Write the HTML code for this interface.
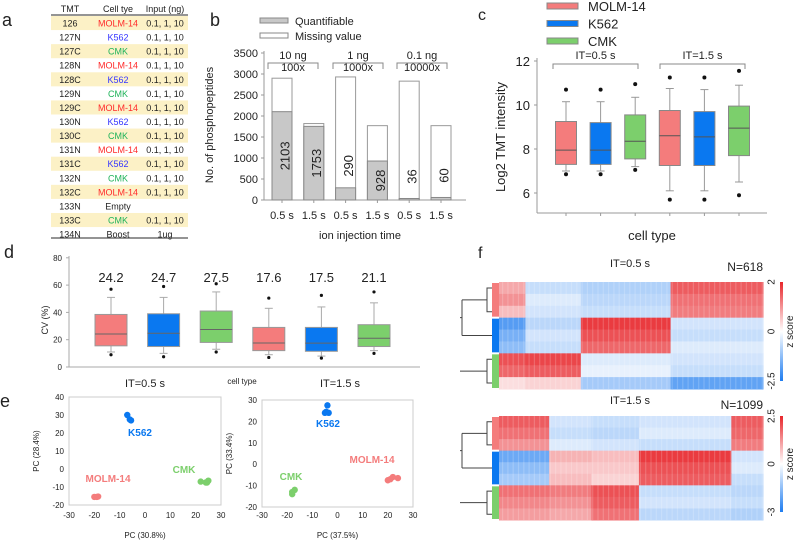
<!DOCTYPE html>
<html><head><meta charset="utf-8">
<style>
body{margin:0;background:#fff;}
svg{display:block;font-family:"Liberation Sans",sans-serif;}
</style></head>
<body>
<svg id="fig" width="798" height="543" viewBox="0 0 798 543" xmlns="http://www.w3.org/2000/svg"></svg>
<script>
// ---------- DATA ----------
const tmtLabels=["126","127N","127C","128N","128C","129N","129C","130N","130C","131N","131C","132N","132C","133N","133C","134N"];
const tmtCells=["MOLM-14","K562","CMK","MOLM-14","K562","CMK","MOLM-14","K562","CMK","MOLM-14","K562","CMK","MOLM-14","Empty","CMK","Boost"];
const tmtInputs=["0.1, 1, 10","0.1, 1, 10","0.1, 1, 10","0.1, 1, 10","0.1, 1, 10","0.1, 1, 10","0.1, 1, 10","0.1, 1, 10","0.1, 1, 10","0.1, 1, 10","0.1, 1, 10","0.1, 1, 10","0.1, 1, 10","","0.1, 1, 10","1ug"];

const bCategories=["0.5 s","1.5 s","0.5 s","1.5 s","0.5 s","1.5 s"];
const bTotal=[2900,1820,2930,1770,2830,1770];
const bQuant=[2103,1753,290,928,36,60];
const bTicks=[0,500,1000,1500,2000,2500,3000,3500];

const cGroups=["MOLM-14","K562","CMK","MOLM-14","K562","CMK"];
const cQ1=[7.3,7.3,7.55,7.25,7.25,7.7];
const cMed=[7.95,7.95,8.35,8.6,8.55,8.95];
const cQ3=[9.25,9.2,9.55,9.75,9.7,9.95];
const cWLo=[7.0,7.0,7.2,6.1,6.1,6.5];
const cWHi=[10.15,10.15,10.35,10.75,10.7,10.9];
const cOutLo=[6.85,6.85,7.05,5.7,5.7,5.9];
const cOutHi=[10.7,10.7,10.95,11.25,11.25,11.55];
const cTicks=[6,8,10,12];

const dMedLabels=["24.2","24.7","27.5","17.6","17.5","21.1"];
const dQ1=[15.5,15,18,12,11.5,15];
const dMed=[24.2,24.7,27.5,17.6,17.5,21.1];
const dQ3=[38.5,39,41,29,29,31];
const dWLo=[11,10,13,9,8,12];
const dWHi=[51,51,55,43,44,47];
const dOutLo=[9,7.5,11,7,6.5,10];
const dOutHi=[57,59,61,50.5,52.5,55];
const dTicks=[0,20,40,60,80];

const e1K562X=[-7,-6,-5.5], e1K562Y=[30,27.5,27];
const e1MolmX=[-20,-19,-18.5], e1MolmY=[-15.5,-15.5,-15.3];
const e1CmkX=[22,24,25,24.5], e1CmkY=[-7,-7.5,-6.5,-7.5];
const e2K562X=[-5,-4,-3.5,-4.5], e2K562Y=[24,27.5,24,24.5];
const e2CmkX=[-18,-17,-18], e2CmkY=[-14,-12,-13];
const e2MolmX=[20,22,24,21], e2MolmY=[-7.5,-6,-6.5,-7];

// heatmap block data: column-segment boundaries (fractions) and z per row
const h1Bounds=[0,0.1,0.31,0.65,1];
const h1Rows=[
 [0.8,-0.5,-0.7,1.5],[1.0,-0.3,-0.6,1.3],[0.6,-0.4,-0.5,1.2],
 [-1.5,-0.6,1.8,-0.4],[-1.2,-0.4,1.6,-0.5],[-1.0,-0.5,1.4,-0.3],
 [1.6,1.7,-0.3,-0.4],[1.4,1.5,-0.2,-0.5],[0.3,0.4,-0.8,-1.4]];
const h2Bounds=[0,0.19,0.35,0.53,0.88,1];
const h2Rows=[
 [1.5,-0.4,-0.5,-0.4,1.5],[1.3,-0.5,-0.6,-0.3,1.4],[1.0,-0.3,-0.4,-0.5,1.2],
 [-1.3,0.7,0.6,1.8,-0.4],[-1.0,0.5,0.5,1.6,-0.3],[-0.8,0.6,0.4,1.5,-0.5],
 [1.3,1.2,1.6,-0.5,-0.6],[1.1,1.0,1.5,-0.4,-0.5],[0.9,0.8,1.3,-0.6,-0.7]];

// ---------- HELPERS ----------
const svg=document.getElementById('fig');
const NS="http://www.w3.org/2000/svg";
function mk(tag,attrs,parent){const e=document.createElementNS(NS,tag);for(const k in attrs)e.setAttribute(k,attrs[k]);(parent||svg).appendChild(e);return e;}
function txt(s,x,y,attrs,parent){const e=mk('text',Object.assign({x:x,y:y,'font-size':11,fill:'#222'},attrs||{}),parent);e.textContent=s;return e;}
const COL={"MOLM-14":"#f47c7c","K562":"#0a78f0","CMK":"#7ccf6c"};
const TCOL={"MOLM-14":"#ff2a2a","K562":"#3535ff","CMK":"#1fb35a"};
function zcol(z){const t=Math.max(-1,Math.min(1,z/2));let r,g,b;
 if(t>=0){r=255+(232-255)*t;g=255+(38-255)*t;b=255+(43-255)*t;}else{const u=-t;r=255+(30-255)*u;g=255+(124-255)*u;b=255+(240-255)*u;}
 return `rgb(${r|0},${g|0},${b|0})`;}

// ---------- PANEL A ----------
let gA=mk('g',{});  
let l=txt('a',2,26,{'font-size':18},gA);  
txt('TMT',70,12,{'text-anchor':'middle','font-size':9},gA);
txt('Cell tye',118,12,{'text-anchor':'middle','font-size':9},gA);
txt('Input (ng)',165,12,{'text-anchor':'middle','font-size':9},gA);
mk('line',{x1:51,y1:15,x2:188,y2:15,stroke:'#555','stroke-width':1.2},gA);
const rowH=14.07;
tmtLabels.forEach((lab,i)=>{
 const y0=16+i*rowH;
 if(i%2===0&&i<15){const r=mk('rect',{x:51,y:y0,width:137,height:rowH,fill:'#fcf1c6'},gA);
   }
 const cy=y0+rowH/2+3.5;
 txt(lab,70,cy,{'text-anchor':'middle','font-size':9},gA);
 const c=tmtCells[i];
 txt(c,118,cy,{'text-anchor':'middle','font-size':9,fill:TCOL[c]||'#222'},gA);
 txt(tmtInputs[i],165,cy,{'text-anchor':'middle','font-size':9},gA);
});
mk('line',{x1:51,y1:238,x2:188,y2:238,stroke:'#555','stroke-width':1.2},gA);

// ---------- PANEL B ----------
let gB=mk('g',{});  
l=txt('b',210,26,{'font-size':18},gB);  
const bY=v=>200-v/3500*147;
const bX=i=>272+i*31.8;
mk('line',{x1:264,y1:51,x2:264,y2:200,stroke:'#999'},gB);
mk('line',{x1:264,y1:200,x2:466,y2:200,stroke:'#999'},gB);
bTicks.forEach(t=>{mk('line',{x1:261,y1:bY(t),x2:264,y2:bY(t),stroke:'#999'},gB);
 txt(String(t),258,bY(t)+4,{'text-anchor':'end','font-size':11},gB);});
bTotal.forEach((v,i)=>{
 let r=mk('rect',{x:bX(i),y:bY(v),width:20,height:bY(0)-bY(v),fill:'#fff',stroke:'#999'},gB);
  
 r=mk('rect',{x:bX(i),y:bY(bQuant[i]),width:20,height:bY(0)-bY(bQuant[i]),fill:'#c8c8c8',stroke:'#888'},gB);
  
 const cx=bX(i)+14, cy=bQuant[i]>600?bY(bQuant[i]/2):bY(bQuant[i])-22;
 txt(String(bQuant[i]),cx,cy,{'text-anchor':'middle','font-size':13,transform:`rotate(-90 ${cx} ${cy})`,'dominant-baseline':'middle'},gB);
 mk('line',{x1:bX(i)+10,y1:200,x2:bX(i)+10,y2:203,stroke:'#999'},gB);
 txt(bCategories[i],bX(i)+10,219,{'text-anchor':'middle','font-size':11},gB);
});
txt('ion injection time',360,239,{'text-anchor':'middle','font-size':11},gB);
txt('No. of phosphopeptides',213,125,{'text-anchor':'middle','font-size':11,transform:'rotate(-90 213 125)'},gB);
mk('rect',{x:260,y:18,width:28,height:5,fill:'#c8c8c8',stroke:'#888'},gB);
mk('rect',{x:260,y:33,width:28,height:5,fill:'#fff',stroke:'#888'},gB);
txt('Quantifiable',295,25,{'font-size':11},gB);
txt('Missing value',295,40,{'font-size':11},gB);
[["10 ng","100x",268,318],["1 ng","1000x",333,383],["0.1 ng","10000x",397,447]].forEach(b=>{
 const c=(b[2]+b[3])/2;
 txt(b[0],c,59,{'text-anchor':'middle','font-size':11},gB);
 mk('path',{d:`M${b[2]} 69V63H${b[3]}V69`,fill:'none',stroke:'#888'},gB);
 txt(b[1],c,71,{'text-anchor':'middle','font-size':11},gB);
});

// ---------- PANEL C ----------
let gC=mk('g',{});  
l=txt('c',478,20,{'font-size':16},gC);  
const cY=v=>149-(v-8)*22;
const cX=i=>566+i*34.6;
mk('line',{x1:537,y1:58,x2:537,y2:213,stroke:'#999'},gC);
mk('line',{x1:537,y1:213,x2:767,y2:213,stroke:'#999'},gC);
cTicks.forEach(t=>{mk('line',{x1:534,y1:cY(t),x2:537,y2:cY(t),stroke:'#999'},gC);
 txt(String(t),530,cY(t)+5,{'text-anchor':'end','font-size':13},gC);});
cGroups.forEach((g,i)=>{
 const x=cX(i);
 mk('line',{x1:x,y1:213,x2:x,y2:216,stroke:'#999'},gC);
 mk('line',{x1:x,y1:cY(cWLo[i]),x2:x,y2:cY(cWHi[i]),stroke:'#999'},gC);
 mk('line',{x1:x-4,y1:cY(cWHi[i]),x2:x+4,y2:cY(cWHi[i]),stroke:'#999'},gC);
 mk('line',{x1:x-4,y1:cY(cWLo[i]),x2:x+4,y2:cY(cWLo[i]),stroke:'#999'},gC);
 const r=mk('rect',{x:x-10.5,y:cY(cQ3[i]),width:21,height:cY(cQ1[i])-cY(cQ3[i]),fill:COL[g],stroke:'#888'},gC);
  
 mk('line',{x1:x-10.5,y1:cY(cMed[i]),x2:x+10.5,y2:cY(cMed[i]),stroke:'#555'},gC);
 mk('circle',{cx:x,cy:cY(cOutLo[i]),r:2,fill:'#111'},gC);
 mk('circle',{cx:x,cy:cY(cOutHi[i]),r:2,fill:'#111'},gC);
});
[["IT=0.5 s",553,638],["IT=1.5 s",660,745]].forEach(b=>{
 txt(b[0],(b[1]+b[2])/2,59,{'text-anchor':'middle','font-size':11},gC);
 mk('path',{d:`M${b[1]} 69V64H${b[2]}V69`,fill:'none',stroke:'#888'},gC);
});
txt('Log2 TMT intensity',505,137,{'text-anchor':'middle','font-size':13,transform:'rotate(-90 505 137)'},gC);
txt('cell type',652,240,{'text-anchor':'middle','font-size':13},gC);
["MOLM-14","K562","CMK"].forEach((g,i)=>{
 const r=mk('rect',{x:547,y:3+i*17.5,width:31,height:6,fill:COL[g],stroke:'#888'},gC);
  
 txt(g,588,11+i*17.5,{'font-size':13},gC);
});

// ---------- PANEL D ----------
let gD=mk('g',{});  
l=txt('d',4,258,{'font-size':18},gD);  
const dY=v=>367-v/20*27.3;
const dX=i=>111+i*52.6;
mk('line',{x1:69,y1:256,x2:69,y2:367,stroke:'#aaa'},gD);
mk('line',{x1:69,y1:367,x2:420,y2:367,stroke:'#aaa'},gD);
dTicks.forEach(t=>{mk('line',{x1:66,y1:dY(t),x2:69,y2:dY(t),stroke:'#aaa'},gD);
 txt(String(t),62,dY(t)+3,{'text-anchor':'end','font-size':8},gD);});
dMed.forEach((m,i)=>{
 const x=dX(i), g=cGroups[i];
 mk('line',{x1:x,y1:dY(dWLo[i]),x2:x,y2:dY(dWHi[i]),stroke:'#aaa'},gD);
 mk('line',{x1:x-4,y1:dY(dWHi[i]),x2:x+4,y2:dY(dWHi[i]),stroke:'#aaa'},gD);
 mk('line',{x1:x-4,y1:dY(dWLo[i]),x2:x+4,y2:dY(dWLo[i]),stroke:'#aaa'},gD);
 const r=mk('rect',{x:x-16,y:dY(dQ3[i]),width:32,height:dY(dQ1[i])-dY(dQ3[i]),fill:COL[g],stroke:'#999'},gD);
  
 mk('line',{x1:x-16,y1:dY(m),x2:x+16,y2:dY(m),stroke:'#666'},gD);
 mk('circle',{cx:x,cy:dY(dOutLo[i]),r:1.6,fill:'#111'},gD);
 mk('circle',{cx:x,cy:dY(dOutHi[i]),r:1.6,fill:'#111'},gD);
 txt(dMedLabels[i],x,282,{'text-anchor':'middle','font-size':13},gD);
});
txt('CV (%)',48,320,{'text-anchor':'middle','font-size':9,transform:'rotate(-90 48 320)'},gD);
txt('IT=0.5 s',145,387,{'text-anchor':'middle','font-size':11},gD);
txt('cell type',242,384,{'text-anchor':'middle','font-size':8},gD);
txt('IT=1.5 s',340,387,{'text-anchor':'middle','font-size':11},gD);

// ---------- PANEL E ----------
l=txt('e',0,407,{'font-size':18});  
function pca(name,x0,x1,y0,y1,ymin,ymax,yticks,xlab,ylab,sets,labels){
 const g=mk('g',{});  
 const X=v=>x0+(v+30)/60*(x1-x0), Y=v=>y1-(v-ymin)/(ymax-ymin)*(y1-y0);
 mk('rect',{x:x0,y:y0,width:x1-x0,height:y1-y0,fill:'none',stroke:'#ccc'},g);
 [-30,-20,-10,0,10,20,30].forEach(t=>txt(String(t),X(t),518,{'text-anchor':'middle','font-size':8},g));
 yticks.forEach(t=>txt(String(t),x0-5,Y(t)+3,{'text-anchor':'end','font-size':8},g));
 txt(xlab,(x0+x1)/2,538,{'text-anchor':'middle','font-size':8},g);
 const yc=(y0+y1)/2, xl=x0-30;
 txt(ylab,xl,yc,{'text-anchor':'middle','font-size':8,transform:`rotate(-90 ${xl} ${yc})`},g);
 sets.forEach(s=>s[0].forEach((v,i)=>{const c=mk('circle',{cx:X(v),cy:Y(s[1][i]),r:3.2,fill:s[2]},g);
   }));
 labels.forEach(L=>txt(L[0],L[1],L[2],{'text-anchor':'middle','font-size':10,'font-weight':'bold',fill:L[3]},g));
}
pca('pca-it-0.5',69,221,397,505,-20,40,[-20,-10,0,10,20,30,40],'PC (30.8%)','PC (28.4%)',
 [[e1K562X,e1K562Y,COL.K562],[e1MolmX,e1MolmY,COL["MOLM-14"]],[e1CmkX,e1CmkY,COL.CMK]],
 [["K562",140,436,COL.K562],["MOLM-14",108,482,COL["MOLM-14"]],["CMK",184,473,COL.CMK]]);
pca('pca-it-1.5',262,413,400,507,-20,30,[-20,-10,0,10,20,30],'PC (37.5%)','PC (33.4%)',
 [[e2K562X,e2K562Y,COL.K562],[e2MolmX,e2MolmY,COL["MOLM-14"]],[e2CmkX,e2CmkY,COL.CMK]],
 [["K562",328,427,COL.K562],["MOLM-14",372,463,COL["MOLM-14"]],["CMK",291,480,COL.CMK]]);

// ---------- PANEL F ----------
l=txt('f',478,258,{'font-size':16});  
const defs=mk('defs',{});
const grad=mk('linearGradient',{id:'zg',x1:0,y1:0,x2:0,y2:1},defs);
mk('stop',{offset:'0',   'stop-color':'#e8262b'},grad);
mk('stop',{offset:'0.5', 'stop-color':'#ffffff'},grad);
mk('stop',{offset:'1',   'stop-color':'#1e7cf0'},grad);
function heat(name,y0,y1,bounds,rows,title,ttlY,n,nY,ticks){
 const g=mk('g',{});  
 const x0=499,x1=763, rh=(y1-y0)/rows.length;
 const X=f=>x0+f*(x1-x0);
 rows.forEach((row,ri)=>row.forEach((z,ci)=>{
  const r=mk('rect',{x:X(bounds[ci]),y:y0+ri*rh,width:X(bounds[ci+1])-X(bounds[ci])+0.5,height:rh+0.5,fill:zcol(z)},g);
   
 }));
 // column texture stripes
 for(let x=x0+3;x<x1;x+=5.3){mk('rect',{x:x,y:y0,width:1.2,height:y1-y0,fill:'#fff',opacity:0.18},g);}
 const gc=["MOLM-14","K562","CMK"];
 gc.forEach((c,i)=>mk('rect',{x:492,y:y0+i*3*rh+1,width:7,height:3*rh-2,fill:COL[c]},g));
 const cr=y0+1.5*rh, cb=y0+4.5*rh, cg=y0+7.5*rh;
 mk('path',{d:`M492 ${y0+0.5*rh}H487V${y0+2.5*rh}H492 M487 ${cr}H462 M492 ${cb}H462 M462 ${cr}V${cb} M462 ${(cr+cb)/2}H460 M492 ${y0+6.5*rh}H487V${y0+8.5*rh}H492 M487 ${cg}H460`,fill:'none',stroke:'#444'},g);
 txt(title,630,ttlY,{'text-anchor':'middle','font-size':11},g);
 txt(n,763,nY,{'text-anchor':'end','font-size':12},g);
 mk('rect',{x:780,y:y0,width:3,height:y1-y0-8,fill:'url(#zg)'},g);
 const cbH=y1-y0-8;
 ticks.forEach((t,i)=>{const yy=y0+i*cbH/2; txt(t,772,yy,{'text-anchor':'middle','font-size':10,transform:`rotate(-90 772 ${yy})`,'dominant-baseline':'middle'},g);});
 const zy=y0+cbH/2;
 txt('z score',793,zy,{'text-anchor':'middle','font-size':10,transform:`rotate(-90 793 ${zy})`},g);
}
heat('heatmap-it-0.5',282,389,h1Bounds,h1Rows,'IT=0.5 s',267,'N=618',271,['2','0','-2.5']);
heat('heatmap-it-1.5',416,520,h2Bounds,h2Rows,'IT=1.5 s',404,'N=1099',409,['2.5','0','-3']);
</script>
</body></html>
